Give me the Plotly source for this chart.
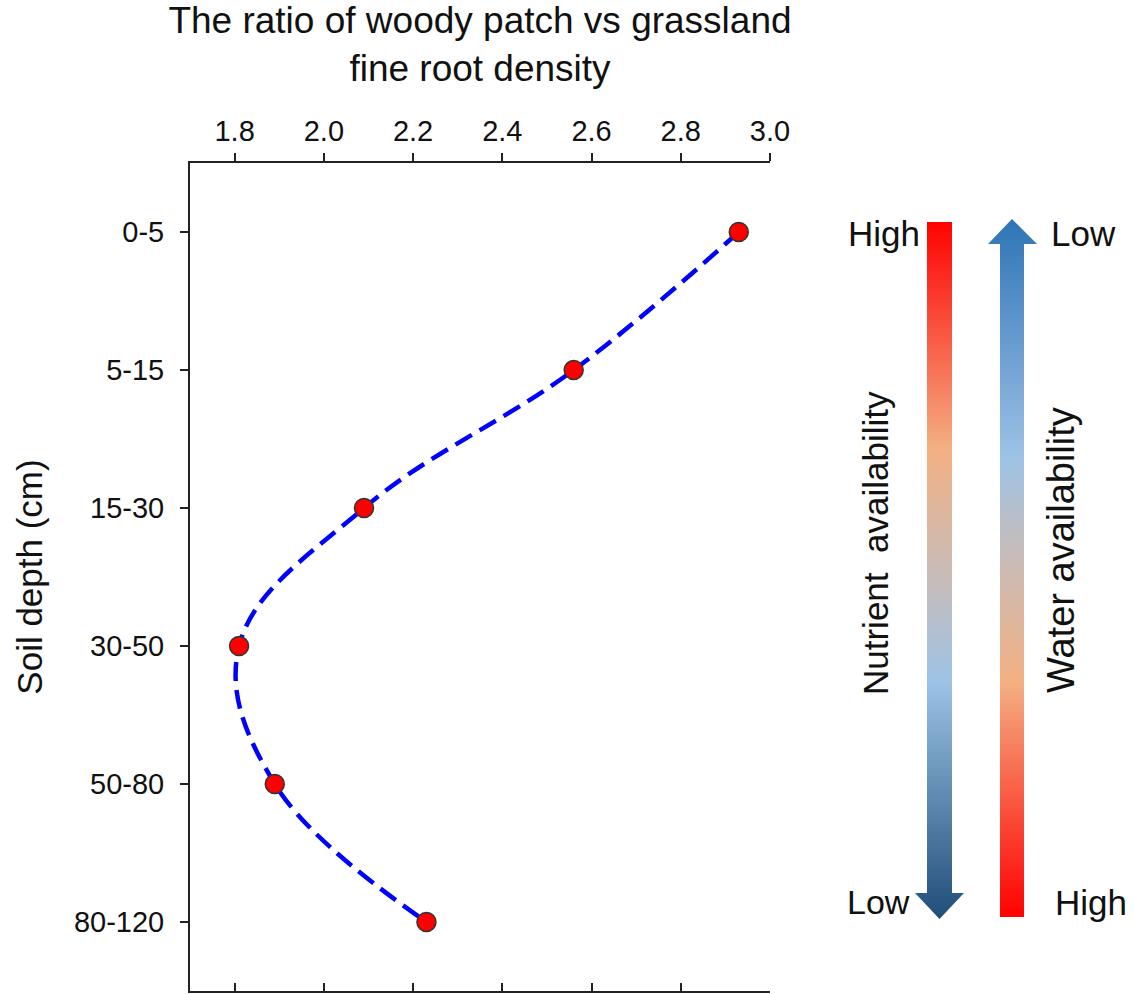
import plotly.graph_objects as go

# ---------------- data ----------------
depths = ["0-5", "5-15", "15-30", "30-50", "50-80", "80-120"]
ratio = [2.93, 2.56, 2.09, 1.81, 1.89, 2.23]
x_ticks = [1.8, 2.0, 2.2, 2.4, 2.6, 2.8, 3.0]
x_ticktext = ["1.8", "2.0", "2.2", "2.4", "2.6", "2.8", "3.0"]

W, H = 1134, 994
FONT = "Arial, Liberation Sans, sans-serif"


def fx(px):
    return px / W


def fy(py):
    return 1 - py / H


fig = go.Figure()

# main curve
fig.add_trace(go.Scatter(
    x=ratio, y=depths, mode="lines+markers",
    line=dict(color="#0000FF", width=4.5, dash="19px,9px", shape="spline", smoothing=1.1),
    marker=dict(size=19, color="#FF0000", line=dict(color="#333333", width=1.5)),
    xaxis="x", yaxis="y", showlegend=False, hoverinfo="x+y",
))

# dummy trace for the bottom mirrored axis
fig.add_trace(go.Scatter(x=[ratio[0]], y=[depths[0]], mode="markers",
                         marker=dict(opacity=0), xaxis="x2", yaxis="y",
                         showlegend=False, hoverinfo="skip"))

# ---------------- gradient arrows (decoration) ----------------
nutrient_scale = [[0.0, "#FF0000"], [0.23, "#F67A5C"], [0.33, "#F3B083"],
                  [0.53, "#C3BDBE"], [0.66, "#9DC3E6"], [1.0, "#1F4E79"]]
water_scale = [[0.0, "#2E75B6"], [0.23, "#79A7D6"], [0.34, "#9DC3E6"],
               [0.46, "#C2BDBF"], [0.66, "#F3B083"], [1.0, "#FF0000"]]

# nutrient: bar on top, arrow head at bottom
nx = [927, 952, 952, 964, 939.5, 915, 927, 927]
ny = [222, 222, 893, 893, 919, 893, 893, 222]
fig.add_trace(go.Scatter(
    x=nx, y=ny, mode="lines", fill="toself", line=dict(width=0, color="rgba(0,0,0,0)"),
    fillgradient=dict(type="vertical", colorscale=nutrient_scale, start=219, stop=919),
    xaxis="x3", yaxis="y3", showlegend=False, hoverinfo="skip"))

# water: arrow head on top, bar at bottom
wx = [1000, 1000, 988, 1012, 1037, 1024, 1024, 1000]
wy = [917, 244, 244, 219, 244, 244, 917, 917]
fig.add_trace(go.Scatter(
    x=wx, y=wy, mode="lines", fill="toself", line=dict(width=0, color="rgba(0,0,0,0)"),
    fillgradient=dict(type="vertical", colorscale=water_scale, start=219, stop=919),
    xaxis="x3", yaxis="y3", showlegend=False, hoverinfo="skip"))

axis_common = dict(showgrid=False, zeroline=False, showline=True, linecolor="#222222",
                   linewidth=2, tickcolor="#222222", tickwidth=1.5, ticklen=8,
                   automargin=False)

fig.update_layout(
    width=W, height=H,
    margin=dict(l=0, r=0, t=0, b=0),
    paper_bgcolor="white", plot_bgcolor="white",
    font=dict(family=FONT, color="#111111"),
    xaxis=dict(
        domain=[fx(190), fx(770)], range=[1.7, 3.0], side="top", anchor="y",
        tickvals=x_ticks, ticktext=x_ticktext, ticks="outside",
        tickfont=dict(size=29, family=FONT, color="#111111"),
        title=dict(text="The ratio of woody patch vs grassland<br>fine root density",
                   font=dict(size=37, family=FONT, color="#111111"), standoff=22),
        **axis_common),
    xaxis2=dict(
        overlaying="x", side="bottom", anchor="y", range=[1.7, 3.0],
        tickvals=x_ticks, ticks="inside", showticklabels=False, **axis_common),
    yaxis=dict(
        domain=[fy(991), fy(163)], range=[5.5, -0.5], type="category",
        categoryorder="array", categoryarray=depths, anchor="x",
        tickvals=depths, ticks="outside", ticklabelstandoff=10,
        tickfont=dict(size=29, family=FONT, color="#111111"),
        title=dict(text="Soil depth (cm)", font=dict(size=35, family=FONT, color="#111111"),
                   standoff=21),
        **axis_common),
    xaxis3=dict(domain=[fx(820), 1], range=[820, 1134], visible=False, anchor="y3",
                fixedrange=True),
    yaxis3=dict(domain=[0, 1], range=[994, 0], visible=False, anchor="x3",
                fixedrange=True),
)

labels = [
    ("High", 884, 233, 0, 35),
    ("Low", 1083, 233, 0, 35),
    ("Low", 878, 902, 0, 34),
    ("High", 1091, 902, 0, 35),
    ("Nutrient&nbsp; availability", 875, 543, -90, 35),
    ("Water availability", 1061, 550, -90, 38),
]
for text, px, py, ang, size in labels:
    fig.add_annotation(text=text, x=fx(px), y=fy(py), xref="paper", yref="paper",
                       showarrow=False, font=dict(size=size, family=FONT, color="#111111"),
                       textangle=ang, xanchor="center", yanchor="middle")

fig.write_html("out.html")
